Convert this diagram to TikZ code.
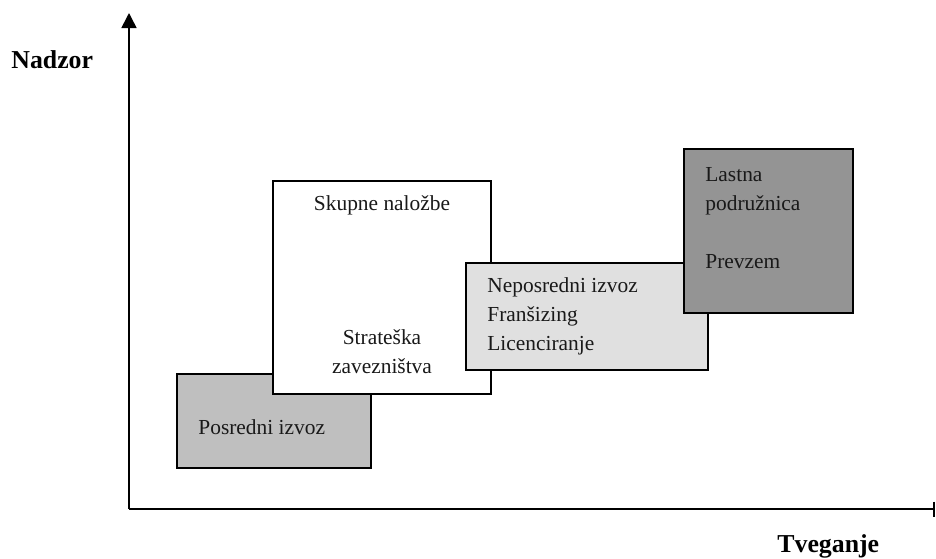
\documentclass[tikz,border=0pt]{standalone}
\usepackage{fontspec}
\setmainfont{Liberation Serif}
\usetikzlibrary{arrows.meta}
\begin{document}
\begin{tikzpicture}[x=0.5pt,y=-0.5pt,
  axis/.style={line width=0.8pt, black},
  box/.style={draw=black, line width=0.9pt, anchor=north west, inner sep=0pt, outer sep=0pt},
  lbl/.style={inner sep=0pt, font=\fontsize{10.7pt}{14.5pt}\selectfont, text=black!90},
  axlbl/.style={inner sep=0pt, anchor=base west, font=\fontsize{12.9pt}{15pt}\selectfont\bfseries}]
\useasboundingbox (0,0) rectangle (936,558);

% axes
\coordinate (origin) at (129,509);
\coordinate (ytop) at (129,13);
\coordinate (xend) at (935,509);
\draw[axis, -{Triangle[width=7.5pt,length=7.5pt]}] (origin) -- (ytop);
\draw[axis, -{Bar[width=7.5pt,line width=1pt]}] (origin) -- (xend);
\node[axlbl] (nadzor) at (11,68) {Nadzor};
\node[axlbl] (tveganje) at (777,552) {Tveganje};

% boxes, back to front
\node[box, fill=black!25, minimum width=97pt, minimum height=47pt] (posredni) at (177,374) {};
\node[box, fill=white, minimum width=109pt, minimum height=106.5pt] (skupne) at (273,181) {};
\node[box, fill=black!12, minimum width=121pt, minimum height=53.5pt] (neposredni) at (466,263) {};
\node[box, fill=black!42, minimum width=84.5pt, minimum height=82pt] (lastna) at (684,149) {};

% box texts (base anchor of a multi-line node sits on its last line)
\node[lbl, anchor=base west] (tposredni) at (198,434) {Posredni izvoz};
\node[lbl, anchor=base] (tskupne) at (382,210) {Skupne naložbe};
\node[lbl, anchor=base, align=center] (tstrat) at (382,373) {Strateška\\zavezništva};
\node[lbl, anchor=base west, align=left] (tnepos) at (487,350) {Neposredni izvoz\\Franšizing\\Licenciranje};
\node[lbl, anchor=base west, align=left] (tlastna) at (705,268) {Lastna\\podružnica\\[14.5pt]Prevzem};
\end{tikzpicture}
\end{document}
